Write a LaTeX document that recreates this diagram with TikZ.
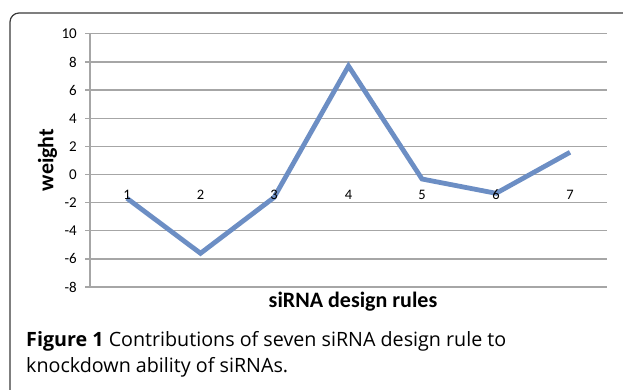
\documentclass[tikz,border=0pt]{standalone}
\usepackage{fontspec}
\setmainfont{Carlito}
\newfontfamily\capfont{Open Sans}
\definecolor{gridgray}{HTML}{A6A6A6}
\definecolor{serieblue}{HTML}{6C8EC4}
\definecolor{framegray}{HTML}{3A3A3A}
\begin{document}
\begin{tikzpicture}[x=1pt,y=-1pt,
  grid/.style={draw=gridgray,line width=1.3pt},
  ticklab/.style={anchor=east,font=\fontsize{15}{17}\selectfont,inner sep=0pt},
  catlab/.style={anchor=center,font=\fontsize{14.5}{17}\selectfont,inner sep=0pt},
  axtitle/.style={font=\bfseries\fontsize{22}{24}\selectfont,inner sep=0pt},
  series/.style={draw=serieblue,line width=4.8pt},
  capline/.style={anchor=west,font=\capfont\fontsize{19.7}{22}\selectfont,inner sep=0pt}]
\useasboundingbox (0,0) rectangle (623,390);
% frame
\draw[framegray,line width=1.2pt,rounded corners=9pt] (10,400) -- (10,13) -- (640,13);
% gridlines and y labels
\foreach \v in {-8,-6,...,10}{
  \pgfmathsetmacro{\yy}{174.5-14.07*\v}
  \coordinate (gl\v) at (85,\yy);
  \coordinate (gr\v) at (607,\yy);
  \draw[grid] (gl\v) -- (gr\v);
  \node[ticklab] (t\v) at (77,\yy) {\v};
}
\coordinate (ytop) at (90,34);
\coordinate (ybot) at (90,287);
\draw[grid] (ytop) -- (ybot);
% data points
\coordinate (p1) at (127,198.3);
\coordinate (p2) at (200.5,253.3);
\coordinate (p3) at (274,197.5);
\coordinate (p4) at (348.5,66);
\coordinate (p5) at (422,179);
\coordinate (p6) at (496,193.3);
\coordinate (p7) at (570,152.3);
\draw[series] (p1) -- (p2) -- (p3) -- (p4) -- (p5) -- (p6) -- (p7);
% category labels
\foreach \i/\xx in {1/127,2/200.5,3/274,4/348.5,5/422,6/496,7/570}{
  \node[catlab] (c\i) at (\xx,194.5) {\i};
}
% axis titles
\node[axtitle,rotate=90] (ytitle) at (47.5,160) {weight};
\node[axtitle] (xtitle) at (353,302) {siRNA design rules};
% caption
\node[capline] (cap1) at (26,341) {\textbf{Figure 1} Contributions of seven siRNA design rule to};
\node[capline] (cap2) at (26,367) {knockdown ability of siRNAs.};
\end{tikzpicture}
\end{document}
